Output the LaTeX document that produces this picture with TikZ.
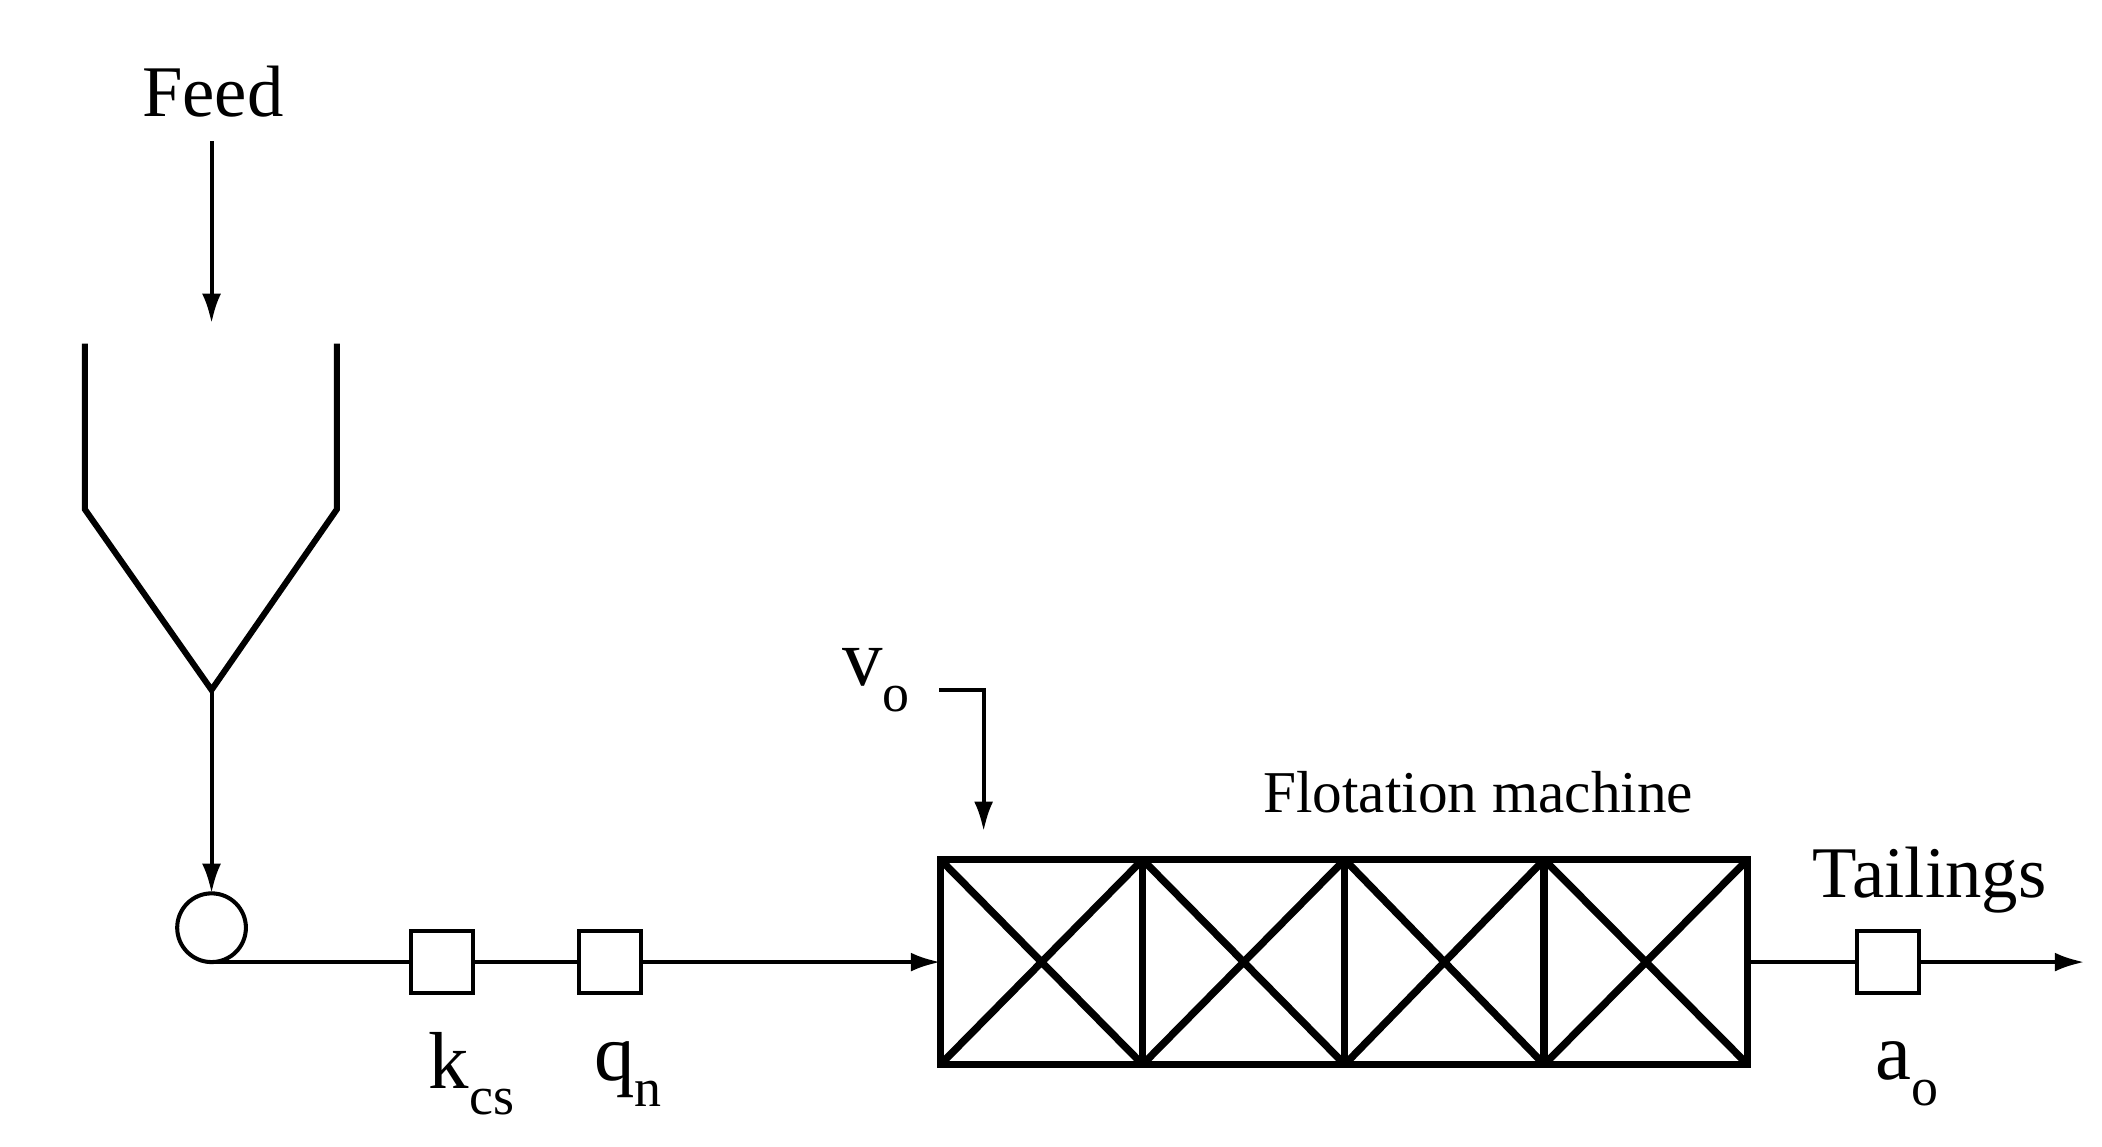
\documentclass[tikz,border=0pt]{standalone}
\usepackage{fontspec}
\setmainfont{Liberation Serif}
\usetikzlibrary{arrows.meta}
\newcommand{\mysub}[1]{\raisebox{-0.32em}{\fontsize{40}{44}\selectfont #1}}
\begin{document}
\begin{tikzpicture}[x=1pt,y=-1pt,
  ln/.style={line width=3pt},
  arr/.style={ln,-{Latex[length=22pt,width=14pt]}},
  thick box/.style={line width=5.5pt},
  sq/.style={draw,line width=3pt,minimum size=46pt,inner sep=0pt,outer sep=0pt,fill=white},
  lbl/.style={font=\fontsize{54}{60}\selectfont,inner sep=0pt},
  sub/.style={font=\fontsize{60}{66}\selectfont,inner sep=0pt}]
\useasboundingbox (0,0) rectangle (1560,851);
\node[lbl] (feed) at (158,68) {Feed};
\coordinate (f1) at (157,105);
\coordinate (f2) at (157,240);
\draw[arr] (f1) -- (f2);
\draw[line width=4.5pt] (63,255) -- (63,378) -- (157,512) -- (250,378) -- (250,255);
\coordinate (hb) at (157,512);
\node[draw,circle,line width=3pt,minimum size=51pt,inner sep=0pt,outer sep=0pt] (pump) at (157,688.5) {};
\draw[arr] (hb) -- (pump.north);
\node[sq] (kcs) at (328,714) {};
\node[sq] (qn) at (453,714) {};
\draw[ln] (pump.south) -- (kcs.west);
\draw[ln] (kcs.east) -- (qn.west);
\node[thick box,draw,minimum width=599pt,minimum height=152pt,inner sep=0pt,outer sep=0pt,anchor=north west] (fm) at (698,638) {};
\draw[arr] (qn.east) -- (fm.west);
\foreach \a/\b in {698/848,848/998,998/1146,1146/1297}{
  \draw[thick box] (\a,638) -- (\b,790) (\a,790) -- (\b,638);
  \draw[thick box] (\b,638) -- (\b,790);
}
\node[font=\fontsize{44}{48}\selectfont] (fmlabel) at (1097,588) {Flotation machine};
\node[sub] (vo) at (650,505) {v\mysub{o}};
\coordinate (v1) at (697,512);
\coordinate (v2) at (730,512);
\coordinate (v3) at (730,617);
\draw[arr] (v1) -- (v2) -- (v3);
\node[sq] (ao) at (1401,714) {};
\draw[ln] (fm.east) -- (ao.west);
\coordinate (tend) at (1547,714);
\draw[arr] (ao.east) -- (tend);
\node[lbl] (tail) at (1432,653) {Tailings};
\node[sub] (klab) at (350,797) {k\mysub{cs}};
\node[sub] (qlab) at (466,797) {q\mysub{n}};
\node[sub] (alab) at (1415,797) {a\mysub{o}};
\end{tikzpicture}
\end{document}
